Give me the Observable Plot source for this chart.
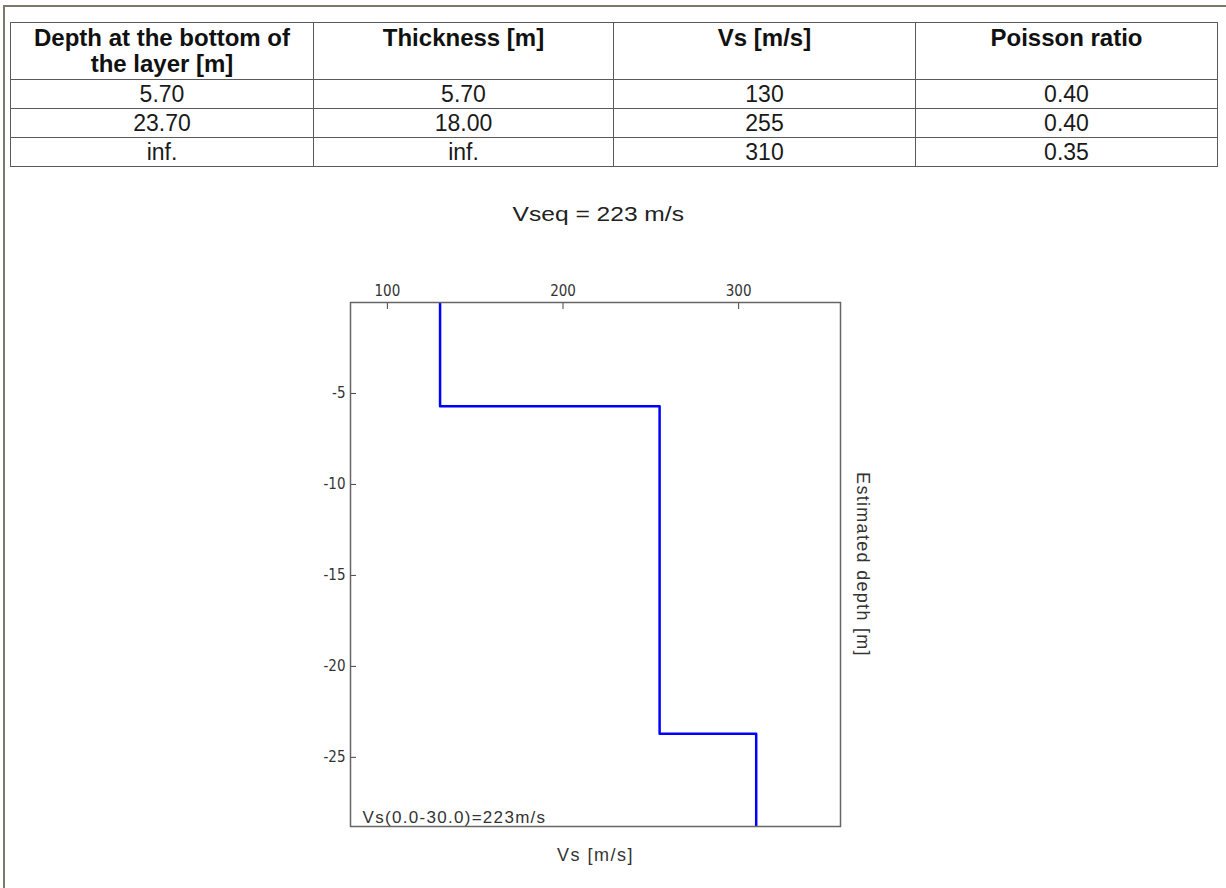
<!DOCTYPE html>
<html>
<head>
<meta charset="utf-8">
<script src="https://cdn.jsdelivr.net/npm/d3@7"></script>
<script src="https://cdn.jsdelivr.net/npm/@observablehq/plot@0.6"></script>
<style>
  html, body { margin: 0; padding: 0; background: #fff; }
  body { width: 1226px; height: 888px; position: relative; overflow: hidden; font-family: "Liberation Sans", Arial, sans-serif; color: #222; }
  #page { position: absolute; left: 3px; top: 5px; width: 1240px; height: 900px; border-top: 2px solid #7d786c; border-left: 2px solid #7d786c; }
  #tbl { position: absolute; left: 10px; top: 22px; border-collapse: collapse; table-layout: fixed; width: 1207px; }
  #tbl td, #tbl th { border: 1.5px solid #5a5a5a; text-align: center; padding: 0; color: #111; }
  #tbl th { font-weight: bold; font-size: 24px; line-height: 26px; vertical-align: top; height: 54px; padding-top: 2px; }
  #tbl td { font-size: 23px; line-height: 27px; height: 28px; color: #1a1a1a; }
  #title { position: absolute; left: 0; width: 1196px; top: 202px; text-align: center; color: #222; }
  #title span { display: inline-block; font-size: 21px; transform: scaleX(1.17); }
  #chart { position: absolute; left: 300px; top: 260px; }
  .annot text { letter-spacing: 1.3px; }
  .xlabel text { letter-spacing: 1.5px; }
  .ylabel text { letter-spacing: 1.3px; }
</style>
</head>
<body>
<div id="page"></div>
<table id="tbl"></table>
<div id="title"><span></span></div>
<div id="chart"></div>
<script>
// ---- data ----
const headers = ["Depth at the bottom of|the layer [m]", "Thickness [m]", "Vs [m/s]", "Poisson ratio"];
const depthBottom = [5.70, 23.70, Infinity];
const thickness = [5.70, 18.00, Infinity];
const vs = [130, 255, 310];
const poisson = [0.40, 0.40, 0.35];
const vseq = 223;
const profileMaxDepth = 30;
const xTicks = [100, 200, 300];
const yTicks = [-5, -10, -15, -20, -25];
const xDomain = [79, 358];
const yDomain = [-28.8, 0];

// ---- table ----
const fmt = v => Number.isFinite(v) ? v.toFixed(2) : "inf.";
const tbl = d3.select("#tbl");
const cg = tbl.append("colgroup");
[303, 300, 302, 302].forEach(w => cg.append("col").style("width", w + "px"));
const hr = tbl.append("tr");
headers.forEach(h => hr.append("th").html(h.split("|").join("<br>")));
depthBottom.forEach((d, i) => {
  const tr = tbl.append("tr");
  [fmt(d), fmt(thickness[i]), String(vs[i]), poisson[i].toFixed(2)].forEach(t => tr.append("td").text(t));
});

d3.select("#title span").text(`Vseq = ${vseq} m/s`);

// ---- profile ----
const profile = [];
let layerTop = 0;
depthBottom.forEach((d, i) => {
  const bottom = Number.isFinite(d) ? d : profileMaxDepth;
  profile.push({vs: vs[i], depth: -layerTop});
  profile.push({vs: vs[i], depth: -bottom});
  layerTop = bottom;
});

const narrow = "'Liberation Sans Narrow', 'DejaVu Sans Condensed', 'Liberation Sans', sans-serif";
const sans = "'Liberation Sans', Arial, sans-serif";
const chart = Plot.plot({
  width: 600,
  height: 620,
  marginLeft: 50,
  marginRight: 60,
  marginTop: 42,
  marginBottom: 54,
  x: {domain: xDomain},
  y: {domain: yDomain},
  style: {fontFamily: narrow, fontSize: "15px", color: "#333", background: "transparent", overflow: "visible"},
  marks: [
    Plot.axisX({anchor: "top", ticks: xTicks, tickSize: -6, tickPadding: 13, tickFormat: d => String(d), label: null, stroke: "#444"}),
    Plot.axisY({anchor: "left", ticks: yTicks, tickSize: -6, tickPadding: 11, tickFormat: d => String(d), label: null, stroke: "#444"}),
    Plot.line(profile, {x: "vs", y: "depth", stroke: "#0000ff", strokeWidth: 2.5, clip: true}),
    Plot.frame({stroke: "#666", strokeWidth: 1.5}),
    Plot.text([`Vs(0.0-${profileMaxDepth.toFixed(1)})=${vseq}m/s`], {className: "annot", frameAnchor: "bottom-left", textAnchor: "start", lineAnchor: "bottom", dx: 12, dy: -4, fontSize: 17, fill: "#333", fontFamily: sans}),
    Plot.text(["Vs [m/s]"], {className: "xlabel", frameAnchor: "bottom", lineAnchor: "top", dy: 22, fontSize: 18, fill: "#333", fontFamily: sans}),
    Plot.text(["Estimated depth [m]"], {className: "ylabel", frameAnchor: "right", textAnchor: "middle", rotate: 90, dx: 22, fontSize: 18, fill: "#333", fontFamily: sans})
  ]
});
document.getElementById("chart").appendChild(chart);
</script>
</body>
</html>
